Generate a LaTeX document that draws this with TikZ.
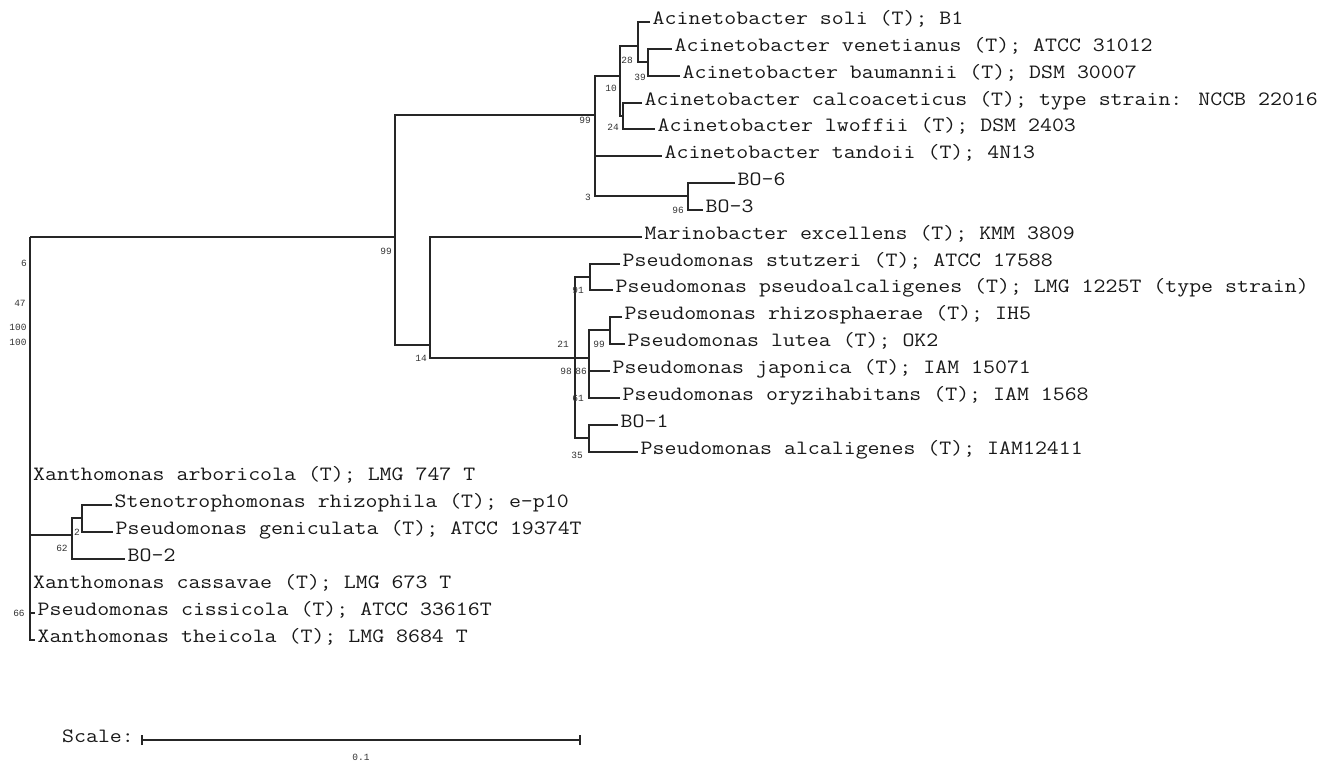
\documentclass[tikz,border=0pt]{standalone}
\usepackage{fontspec}
\newfontfamily\cour[FakeStretch=1.143]{Latin Modern Mono}
\newfontfamily\lab{Liberation Mono}
\begin{document}
\begin{tikzpicture}[x=1pt,y=-1pt,
 br/.style={line width=1.7pt,draw=black!85},
 leaf/.style={anchor=west,inner xsep=2.5pt,inner ysep=0pt,font=\cour\fontsize{20.3}{20.3}\selectfont,text height=0.58em,text depth=0em,text=black!90},
 bs/.style={font=\lab\fontsize{9.5}{9.5}\selectfont,inner sep=0pt,text=black!80},
]
\useasboundingbox[fill=white] (0,0) rectangle (1328,764);
% ---------- leaves ----------
\node[leaf] (soli)  at (650,22)  {Acinetobacter soli (T); B1};
\node[leaf] (ven)   at (672,49)  {Acinetobacter venetianus (T); ATCC 31012};
\node[leaf] (bau)   at (680,76)  {Acinetobacter baumannii (T); DSM 30007};
\node[leaf] (calco) at (642,103) {Acinetobacter calcoaceticus (T); type strain: NCCB 22016};
\node[leaf] (lwo)   at (655,129) {Acinetobacter lwoffii (T); DSM 2403};
\node[leaf] (tand)  at (662,156) {Acinetobacter tandoii (T); 4N13};
\node[leaf] (bosix) at (735,183) {BO-6};
\node[leaf] (bothree) at (703,210) {BO-3};
\node[leaf] (marin) at (642,237) {Marinobacter excellens (T); KMM 3809};
\node[leaf] (stut)  at (620,264) {Pseudomonas stutzeri (T); ATCC 17588};
\node[leaf] (psalc) at (613,290) {Pseudomonas pseudoalcaligenes (T); LMG 1225T (type strain)};
\node[leaf] (rhizo) at (622,317) {Pseudomonas rhizosphaerae (T); IH5};
\node[leaf] (lutea) at (625,344) {Pseudomonas lutea (T); OK2};
\node[leaf] (jap)   at (610,371) {Pseudomonas japonica (T); IAM 15071};
\node[leaf] (oryz)  at (620,398) {Pseudomonas oryzihabitans (T); IAM 1568};
\node[leaf] (boone) at (618,425) {BO-1};
\node[leaf] (alcal) at (638,452) {Pseudomonas alcaligenes (T); IAM12411};
\node[leaf] (arbo)  at (30.5,478) {Xanthomonas arboricola (T); LMG 747 T};
\node[leaf] (steno) at (112,505) {Stenotrophomonas rhizophila (T); e-p10};
\node[leaf] (geni)  at (113,532) {Pseudomonas geniculata (T); ATCC 19374T};
\node[leaf] (botwo) at (125,559) {BO-2};
\node[leaf] (cass)  at (30.5,586) {Xanthomonas cassavae (T); LMG 673 T};
\node[leaf] (ciss)  at (35,613)  {Pseudomonas cissicola (T); ATCC 33616T};
\node[leaf] (thei)  at (35,640)  {Xanthomonas theicola (T); LMG 8684 T};
% ---------- internal nodes ----------
\coordinate (R)    at (30,237);
\coordinate (nN)   at (395,237);
\coordinate (nF)   at (430,345);
\coordinate (nAc)  at (595,115);
\coordinate (nTen) at (620,76);
\coordinate (nTw)  at (638,46);
\coordinate (nTn)  at (648,62);
\coordinate (nTf)  at (623,116);
\coordinate (nBO)  at (688,196);
\coordinate (nPs)  at (575,358);
\coordinate (nNo)  at (590,277);
\coordinate (nEs)  at (589,358);
\coordinate (nRh)  at (610,330);
\coordinate (nBone) at (589,438);
\coordinate (nSx)  at (72,535);
\coordinate (nTwo) at (82,518);
% ---------- branches ----------
\draw[br] (R) -- (nN);
\draw[br] (R) |- (thei.west);
\draw[br] (R |- ciss.west) -- (ciss.west);
\draw[br] (R |- nSx) -- (nSx);
\draw[br] (nTwo) -| (nSx) |- (botwo.west);
\draw[br] (steno.west) -| (nTwo) |- (geni.west);
\draw[br] (nAc) -| (nN) |- (nF);
\draw[br] (marin.west) -| (nF) |- (nPs);
\draw[br] (nTen) -| (nAc) |- (nBO);
\draw[br] (nAc |- tand.west) -- (tand.west);
\draw[br] (nTw) -| (nTen) |- (nTf);
\draw[br] (soli.west) -| (nTw) |- (nTn);
\draw[br] (ven.west) -| (nTn) |- (bau.west);
\draw[br] (calco.west) -| (nTf) |- (lwo.west);
\draw[br] (bosix.west) -| (nBO) |- (bothree.west);
\draw[br] (nNo) -| (nPs) |- (nBone);
\draw[br] (nPs) -- (nEs);
\draw[br] (stut.west) -| (nNo) |- (psalc.west);
\draw[br] (nRh) -| (nEs) |- (oryz.west);
\draw[br] (nEs |- jap.west) -- (jap.west);
\draw[br] (rhizo.west) -| (nRh) |- (lutea.west);
\draw[br] (boone.west) -| (nBone) |- (alcal.west);
% ---------- bootstrap values ----------
\node[bs] (b28) at (627,60) {28};
\node[bs] (b39) at (640,77) {39};
\node[bs] (b10) at (611,88) {10};
\node[bs] (b24) at (613,127) {24};
\node[bs] (b99a) at (585,120) {99};
\node[bs] (b3) at (588,197) {3};
\node[bs] (b96) at (678,210) {96};
\node[bs] (b99b) at (386,251) {99};
\node[bs] (b14) at (421,358) {14};
\node[bs] (b91) at (578,290) {91};
\node[bs] (b21) at (563,344) {21};
\node[bs] (b99c) at (599,344) {99};
\node[bs] (b98) at (566,371) {98};
\node[bs] (b86) at (581,371) {86};
\node[bs] (b61) at (578,398) {61};
\node[bs] (b35) at (577,455) {35};
\node[bs] (b6) at (24,263) {6};
\node[bs] (b47) at (20,303) {47};
\node[bs] (bh1) at (18,327) {100};
\node[bs] (bh2) at (18,342) {100};
\node[bs] (b62) at (62,548) {62};
\node[bs] (b2) at (77,532) {2};
\node[bs] (b66) at (19,613) {66};
% ---------- scale ----------
\node[leaf,inner xsep=0pt] (scl) at (62,740) {Scale:};
\coordinate (sa) at (142,740);
\coordinate (sb) at (580,740);
\draw[line width=1.2pt,black!85] (sa) -- (sb);
\draw[line width=1.2pt,black!85] ([yshift=-5pt]sa) -- ([yshift=5pt]sa);
\draw[line width=1.2pt,black!85] ([yshift=-5pt]sb) -- ([yshift=5pt]sb);
\node[bs] (sl) at (361,757) {0.1};
\end{tikzpicture}
\end{document}
